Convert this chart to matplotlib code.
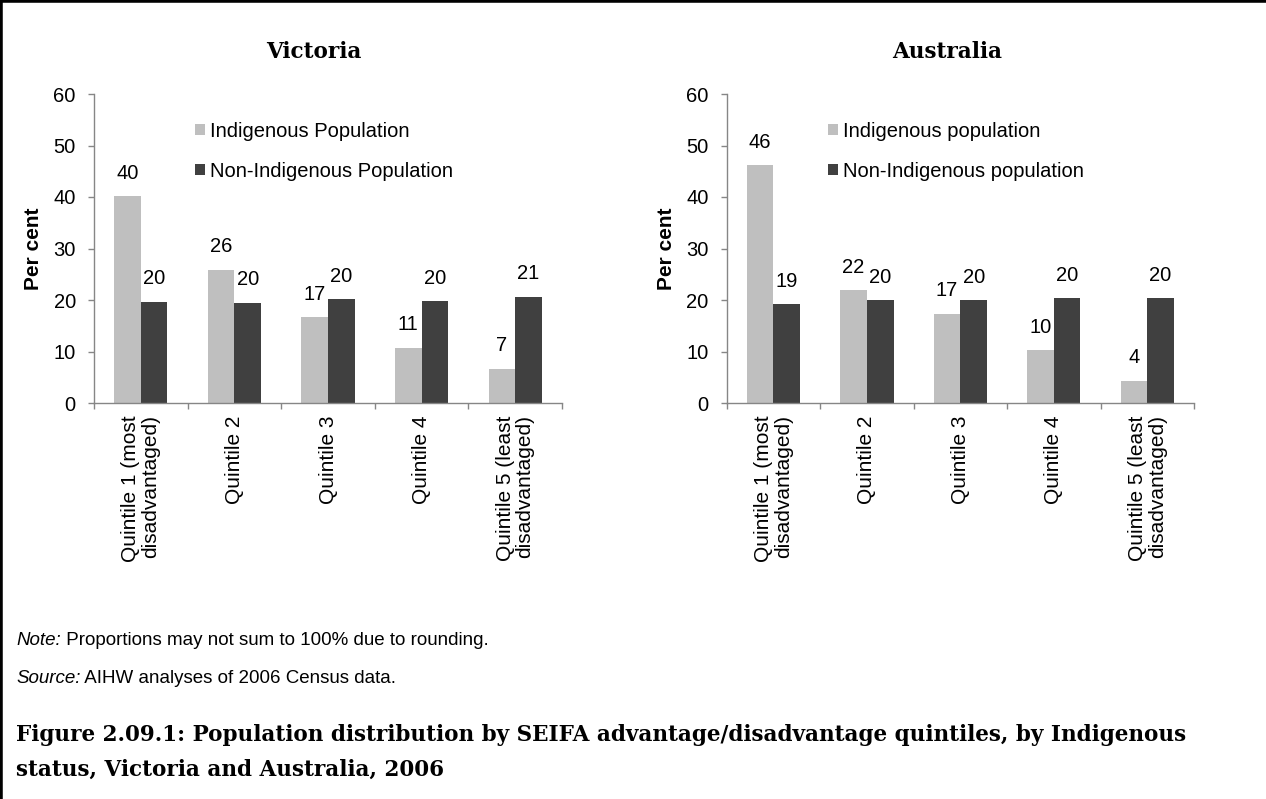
import matplotlib.pyplot as plt
from matplotlib.lines import Line2D
import numpy as np

categories = ['Quintile 1 (most\ndisadvantaged)', 'Quintile 2', 'Quintile 3',
              'Quintile 4', 'Quintile 5 (least\ndisadvantaged)']
vic_indig = [40.1, 25.9, 16.7, 10.7, 6.65]
vic_non = [19.65, 19.5, 20.2, 19.8, 20.6]
aus_indig = [46.2, 21.9, 17.3, 10.3, 4.3]
aus_non = [19.2, 20.0, 20.0, 20.4, 20.4]

panels = [
    ('Victoria', vic_indig, vic_non, 'Indigenous Population', 'Non-Indigenous Population'),
    ('Australia', aus_indig, aus_non, 'Indigenous population', 'Non-Indigenous population'),
]

W, H = 1266, 799
fig = plt.figure(figsize=(W / 100, H / 100), dpi=100)
fig.patch.set_facecolor('white')

light = '#BFBFBF'
dark = '#404040'
axis_col = '#868686'
sans = 'Liberation Sans'
serif = 'DejaVu Serif'
fs = 14.5

# pixel boxes of the plot areas: left, right, top, bottom
boxes = [(94, 562, 94, 403), (726.7, 1194, 94, 403)]
title_x = [314, 947]

x = np.arange(len(categories))
bw = 0.285

for (title, indig, non, lab1, lab2), (l, r, t, b), tx in zip(panels, boxes, title_x):
    ax = fig.add_axes([l / W, 1 - b / H, (r - l) / W, (b - t) / H])
    b1 = ax.bar(x - bw / 2, indig, bw, color=light, label=lab1)
    b2 = ax.bar(x + bw / 2, non, bw, color=dark, label=lab2)
    for bars, vals in ((b1, indig), (b2, non)):
        for rect, v in zip(bars, vals):
            ax.annotate(f'{v:.0f}', (rect.get_x() + rect.get_width() / 2, v),
                        xytext=(0, 16.5), textcoords='offset points',
                        ha='center', va='center', fontsize=fs, family=sans)

    ax.set_xlim(-0.5, len(categories) - 0.5)
    ax.set_ylim(0, 60)
    ax.set_yticks(range(0, 61, 10))
    ax.set_xticks(x)
    ax.set_xticklabels(categories, rotation=90, fontsize=15, family=sans,
                       ha='center', va='top', multialignment='right',
                       linespacing=1.05)
    ax.set_xticks(np.arange(-0.5, len(categories)), minor=True)
    ax.tick_params(axis='x', which='major', length=0, pad=9)
    ax.tick_params(axis='x', which='minor', length=4.3, width=1, color=axis_col)
    ax.tick_params(axis='y', length=4.1, width=1, color=axis_col, pad=9)
    for lbl in ax.get_yticklabels():
        lbl.set_fontsize(fs)
        lbl.set_family(sans)
    for side in ('top', 'right'):
        ax.spines[side].set_visible(False)
    for side in ('left', 'bottom'):
        ax.spines[side].set_color(axis_col)
        ax.spines[side].set_linewidth(1)

    ax.set_ylabel('Per cent', fontsize=15, family=sans, fontweight='bold')
    ax.yaxis.set_label_coords(-0.108, 0.5)

    ax.legend(loc='upper left', bbox_to_anchor=(0.216, 0.911), frameon=False,
              prop={'family': sans, 'size': fs}, handlelength=0.5,
              handleheight=0.5, handletextpad=0.25, labelspacing=1.05,
              borderpad=0, borderaxespad=0)

    fig.text(tx / W, 1 - 52 / H, title, ha='center', va='center',
             fontsize=15.5, family=serif, fontweight='bold')

# notes: italic lead word followed by plain text on the same baseline
fig.canvas.draw()
renderer = fig.canvas.get_renderer()
notes = [('Note:', ' Proportions may not sum to 100% due to rounding.', 645),
         ('Source:', ' AIHW analyses of 2006 Census data.', 683)]
for lead, rest, yb in notes:
    t1 = fig.text(16 / W, 1 - yb / H, lead, ha='left', va='baseline',
                  fontsize=13.5, family=sans, style='italic')
    ext = t1.get_window_extent(renderer)
    fig.text(ext.x1 / W, 1 - yb / H, rest, ha='left', va='baseline',
             fontsize=13.5, family=sans)

fig.text(16 / W, 1 - 735 / H,
         'Figure 2.09.1: Population distribution by SEIFA advantage/disadvantage quintiles, by Indigenous',
         ha='left', va='center', fontsize=15.5, family=serif, fontweight='bold')
fig.text(16 / W, 1 - 770 / H, 'status, Victoria and Australia, 2006',
         ha='left', va='center', fontsize=15.5, family=serif, fontweight='bold')

# frame lines on top and left edge
fig.add_artist(Line2D([0, 1], [1, 1], transform=fig.transFigure, color='black', lw=4))
fig.add_artist(Line2D([0, 0], [0, 1], transform=fig.transFigure, color='black', lw=4))

plt.savefig('out.png', dpi=100)
